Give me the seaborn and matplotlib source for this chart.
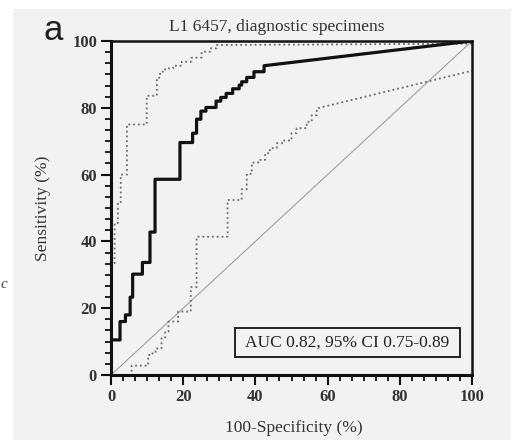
import numpy as np
import pandas as pd
import matplotlib
matplotlib.use('Agg')
import matplotlib.pyplot as plt
from matplotlib.patches import Rectangle
from matplotlib.ticker import MultipleLocator, AutoMinorLocator
import seaborn as sns

# ROC operating points (100-specificity %, sensitivity %)
main_fpr = [0, 0, 2.5, 4, 5.3, 6, 8.7, 10.8, 12.2, 19.1, 22.6, 23.7, 24.9, 26.3,
            29.1, 30.4, 31.9, 33.7, 35.5, 36.2, 37.6, 39.6, 42.4, 100]
main_tpr = [0, 10.5, 16, 18, 23.3, 30.2, 33.7, 42.8, 58.6, 69.6, 72.4, 76.6, 79, 80.1,
            82, 83.1, 84.3, 85.7, 86.8, 87.8, 89.1, 90.8, 92.6, 100]

# upper 95% CI band
upper_fpr = [0, 0, 1.0, 1.9, 2.7, 4.4, 9.9, 12.7, 13.6, 15, 17.2, 19.6, 22.3,
             25.1, 27.4, 29.3, 100]
upper_tpr = [0, 33.5, 45.5, 51.5, 60, 75, 83.6, 89, 90.8, 91.8, 92.6, 93.8, 95,
             96.8, 97.8, 98.8, 99.2]

# lower 95% CI band
lower_fpr = [0, 5.7, 10.3, 11.5, 12.8, 14, 15, 15.9, 18.6, 22.1, 23.7, 32.3, 36.2,
             37.6, 39, 40.8, 42.7, 44, 45.9, 47.7, 50, 51.4, 54.2, 55.6, 57, 100]
lower_tpr = [0, 2.8, 6, 7, 8, 11, 13, 16, 19, 26.3, 41.4, 52.4, 55.6,
             60.2, 63.6, 64.4, 66.4, 67.9, 69.4, 70.2, 72.4, 73.9, 75.8, 77.8, 79.8, 91.1]

chance = [0, 100]

title = 'L1 6457, diagnostic specimens'
auc_text = 'AUC 0.82, 95% CI 0.75-0.89'


def roc_steps(fpr, tpr):
    """Turn ROC points into a step path (horizontal, then vertical).
    The last point is joined with a straight segment."""
    xs, ys = [fpr[0]], [tpr[0]]
    for i in range(1, len(fpr) - 1):
        xs += [fpr[i], fpr[i]]
        ys += [tpr[i - 1], tpr[i]]
    xs.append(fpr[-1])
    ys.append(tpr[-1])
    return pd.DataFrame({'fpr': xs, 'tpr': ys})


sns.set_theme(style='ticks')
plt.rcParams['font.family'] = ['Liberation Serif', 'DejaVu Serif']

bg = '#f2f2f2'
fig = plt.figure(figsize=(5.23, 4.40), dpi=100)
fig.patch.set_facecolor('white')
fig.patches.append(Rectangle((13 / 523, 0), (511 - 13) / 523, (440 - 9) / 440,
                             transform=fig.transFigure, facecolor=bg,
                             edgecolor='none', zorder=-10))

ax = fig.add_axes([111 / 523, 1 - 375 / 440, 361 / 523, 334 / 440])
ax.set_facecolor(bg)

sns.lineplot(x=chance, y=chance, ax=ax, color='#a0a0a0', linewidth=0.8)
sns.lineplot(data=roc_steps(upper_fpr, upper_tpr), x='fpr', y='tpr', ax=ax,
             sort=False, estimator=None, color='#6a6a6a', linewidth=1.3,
             linestyle=':')
sns.lineplot(data=roc_steps(lower_fpr, lower_tpr), x='fpr', y='tpr', ax=ax,
             sort=False, estimator=None, color='#6a6a6a', linewidth=1.3,
             linestyle=':')
sns.lineplot(data=roc_steps(main_fpr, main_tpr), x='fpr', y='tpr', ax=ax,
             sort=False, estimator=None, color='#111111', linewidth=2.3)

ax.set_xlim(0, 100)
ax.set_ylim(0, 100)
ax.xaxis.set_major_locator(MultipleLocator(20))
ax.yaxis.set_major_locator(MultipleLocator(20))
ax.xaxis.set_minor_locator(AutoMinorLocator(6))
ax.yaxis.set_minor_locator(AutoMinorLocator(6))
ax.tick_params(which='major', length=7, width=1.5, color='#111111', pad=3,
               labelsize=12)
ax.tick_params(which='minor', length=4, width=1.3, color='#111111')
for lab in ax.get_xticklabels() + ax.get_yticklabels():
    lab.set_fontweight('bold')
    lab.set_color('#333333')

for side in ['left', 'bottom']:
    ax.spines[side].set_linewidth(2.2)
for side in ['top', 'right']:
    ax.spines[side].set_linewidth(1.8)
for sp in ax.spines.values():
    sp.set_color('#111111')

ax.set_xlabel('100-Specificity (%)', fontsize=12.5, color='#333333')
ax.set_ylabel('Sensitivity (%)', fontsize=12.5, color='#333333')
ax.xaxis.set_label_coords(0.507, -0.135)
ax.yaxis.set_label_coords(-0.166, 0.5)

# AUC box
ax.add_patch(Rectangle((34.3, 5.3), 62.4, 8.7, facecolor=bg, edgecolor='#222222',
                       linewidth=1.4, zorder=5))
ax.text(65.5, 9.65, auc_text, ha='center', va='center', fontsize=12.5,
        color='#222222', zorder=6)

fig.text(277 / 523, 1 - 27 / 440, title, ha='center', va='center',
         fontsize=12.5, color='#333333')
fig.text(53 / 523, 1 - 31 / 440, 'a', ha='center', va='center', fontsize=25,
         family=['Liberation Sans', 'DejaVu Sans'], color='#222222')
fig.text(1 / 523, 1 - 285 / 440, 'c', ha='left', va='center', fontsize=11,
         style='italic', color='#444444')

fig.savefig('out.png', dpi=100, facecolor=fig.get_facecolor())
